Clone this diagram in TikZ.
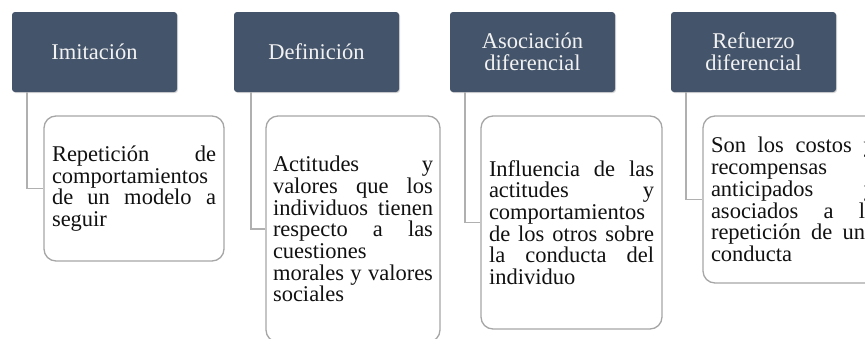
\documentclass[tikz,border=0pt]{standalone}
\usepackage{fontspec}
\setmainfont{Liberation Serif}
\usetikzlibrary{shadows}
\definecolor{hdr}{HTML}{44546A}
\definecolor{edgegray}{HTML}{A6A6A6}
\definecolor{linkgray}{HTML}{B0B0B0}
\definecolor{bodytext}{HTML}{111111}
\begin{document}
\begin{tikzpicture}[x=1pt,y=-1pt,
  hdrbox/.style={draw=none, fill=hdr, rounded corners=3pt, minimum width=165pt,
    minimum height=80pt, text=white!95!black, align=center, inner sep=0pt,
    font=\fontsize{22.5}{22}\selectfont,
    drop shadow={opacity=0.3, shadow xshift=1pt, shadow yshift=-1pt}},
  body/.style={draw=edgegray, line width=1.3pt, fill=white, rounded corners=12pt,
    inner sep=8pt, align=left, text=bodytext,
    font=\fontsize{22.5}{21.7}\selectfont},
  conn/.style={draw=linkgray, line width=1.4pt}]
\useasboundingbox (0,0) rectangle (865,338);
\clip (0,0) rectangle (865,338);
\fill[white] (0,0) rectangle (865,338);

\node[hdrbox] (h1) at (94.5,52) {Imitación};
\node[hdrbox] (h2) at (316.5,52) {Definición};
\node[hdrbox] (h3) at (532.5,52) {Asociación\\diferencial};
\node[hdrbox] (h4) at (753.5,52) {Refuerzo\\diferencial};

\node[body, minimum width=180pt, minimum height=145pt, text width=164pt] (b1) at (134,188.5)
  {Repetición\hfill de\\ comportamientos\\ de\hfill un\hfill modelo\hfill a\\ seguir};
\node[body, inner sep=7pt, minimum width=174pt, minimum height=226pt, text width=160pt] (b2) at (353,229)
  {Actitudes\hfill y\\ valores\hfill que\hfill los\\ individuos\hfill tienen\\ respecto\hfill a\hfill las\\ cuestiones\\ morales\hfill y\hfill valores\\ sociales};
\node[body, minimum width=181pt, minimum height=213pt, text width=165pt] (b3) at (571.5,222.5)
  {Influencia\hfill de\hfill las\\ actitudes\hfill y\\ comportamientos\\ de\hfill los\hfill otros\hfill sobre\\ la\hfill conducta\hfill del\\ individuo};
\node[body, minimum width=180pt, minimum height=167pt, text width=164pt] (b4) at (793,199.5)
  {Son\hfill los\hfill costos\hfill y\\ recompensas\\ anticipados\hfill y\\ asociados\hfill a\hfill la\\ repetición\hfill de\hfill una\\ conducta};

\draw[conn] ([xshift=15pt]h1.south west) |- (b1.west);
\draw[conn] ([xshift=17pt]h2.south west) |- (b2.west);
\draw[conn] ([xshift=15pt]h3.south west) |- (b3.west);
\draw[conn] ([xshift=15pt]h4.south west) |- (b4.west);
\end{tikzpicture}
\end{document}
